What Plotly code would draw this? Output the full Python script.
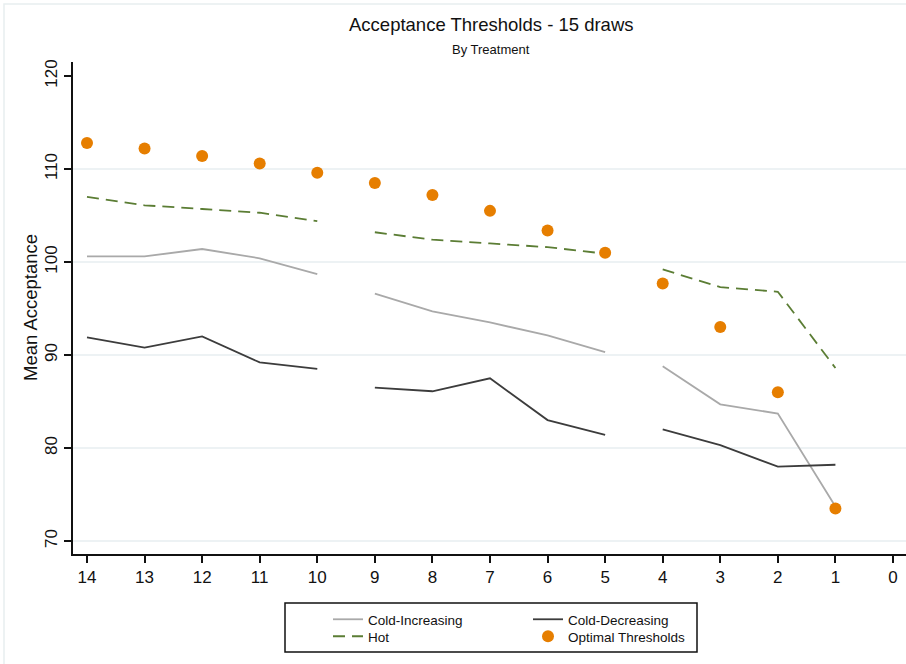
import plotly.graph_objects as go

# Draws remaining (x axis), 14 down to 1
draws = [14, 13, 12, 11, 10, 9, 8, 7, 6, 5, 4, 3, 2, 1]
# Line segments are broken after these draws
breaks_after = [10, 5]

cold_increasing = [100.6, 100.6, 101.4, 100.4, 98.7, 96.6, 94.7, 93.5, 92.1, 90.3, 88.8, 84.7, 83.7, 73.7]
cold_decreasing = [91.9, 90.8, 92.0, 89.2, 88.5, 86.5, 86.1, 87.5, 83.0, 81.4, 82.0, 80.3, 78.0, 78.2]
hot = [107.0, 106.1, 105.7, 105.3, 104.4, 103.2, 102.4, 102.0, 101.6, 100.9, 99.2, 97.3, 96.8, 88.6]
optimal = [112.8, 112.2, 111.4, 110.6, 109.6, 108.5, 107.2, 105.5, 103.4, 101.0, 97.7, 93.0, 86.0, 73.5]

x_ticks = list(range(14, -1, -1))
y_ticks = [70, 80, 90, 100, 110, 120]


def with_breaks(xs, ys):
    ox, oy = [], []
    for x, y in zip(xs, ys):
        ox.append(x)
        oy.append(y)
        if x in breaks_after:
            ox.append(None)
            oy.append(None)
    return ox, oy


FONT = "Liberation Sans, Arial, sans-serif"
fig = go.Figure()

x1, y1 = with_breaks(draws, cold_increasing)
fig.add_trace(go.Scatter(x=x1, y=y1, mode="lines", name="Cold-Increasing", legend="legend",
                         line=dict(color="#a9a9a9", width=1.8), connectgaps=False))
x2, y2 = with_breaks(draws, cold_decreasing)
fig.add_trace(go.Scatter(x=x2, y=y2, mode="lines", name="Cold-Decreasing", legend="legend2",
                         line=dict(color="#3c3c3c", width=1.8), connectgaps=False))
x3, y3 = with_breaks(draws, hot)
fig.add_trace(go.Scatter(x=x3, y=y3, mode="lines", name="Hot", legend="legend3",
                         line=dict(color="#5b7d34", width=1.8, dash="12px,7px"), connectgaps=False))
fig.add_trace(go.Scatter(x=draws, y=optimal, mode="markers", name="Optimal Thresholds", legend="legend4",
                         marker=dict(color="#e67e00", size=12, line=dict(width=0))))

# light horizontal gridlines (not at the top tick)
for yv in y_ticks[:-1]:
    fig.add_shape(type="line", xref="paper", x0=0, x1=1, yref="y", y0=yv, y1=yv,
                  line=dict(color="#e7eef1", width=1.5), layer="below")

W, H = 906, 664
ML, MR, MT, MB = 73, 0, 62, 110
pw = W - ML - MR
ph = H - MT - MB

def px_x(p):
    return (p - ML) / pw

def px_y(p):
    return 1 - (p - MT) / ph

# faint outer frame
fig.add_shape(type="rect", xref="paper", yref="paper",
              x0=px_x(4), x1=px_x(W + 10), y0=px_y(H + 10), y1=px_y(4),
              line=dict(color="#e8eef0", width=1.5), layer="below")
# legend frame
fig.add_shape(type="rect", xref="paper", yref="paper",
              x0=px_x(285), x1=px_x(697), y0=px_y(652), y1=px_y(603),
              line=dict(color="#111111", width=1.5), fillcolor="white", layer="below")

fig.add_annotation(text="Acceptance Thresholds - 15 draws", xref="paper", yref="paper",
                   x=px_x(491), y=px_y(24), showarrow=False,
                   font=dict(family=FONT, size=18.5, color="#111111"), yanchor="middle")
fig.add_annotation(text="By Treatment", xref="paper", yref="paper",
                   x=px_x(491), y=px_y(50), showarrow=False,
                   font=dict(family=FONT, size=13, color="#111111"), yanchor="middle")
fig.add_annotation(text="Mean Acceptance", xref="paper", yref="paper",
                   x=px_x(30), y=px_y(308), showarrow=False, textangle=-90,
                   font=dict(family=FONT, size=18.5, color="#111111"),
                   xanchor="center", yanchor="middle")


def leg(xp, yp):
    return dict(orientation="v", xanchor="left", yanchor="top",
                x=px_x(xp), y=px_y(yp), borderwidth=0, bgcolor="rgba(0,0,0,0)",
                font=dict(family=FONT, size=13.5, color="#111111"),
                tracegroupgap=0, itemwidth=30)


fig.update_layout(
    width=W, height=H,
    margin=dict(l=ML, r=MR, t=MT, b=MB),
    paper_bgcolor="white", plot_bgcolor="white",
    font=dict(family=FONT, color="#111111"),
    showlegend=True,
    legend=leg(328, 604),
    legend2=leg(528, 604),
    legend3=leg(328, 621),
    legend4=leg(528, 621),
    xaxis=dict(range=[14.243, -0.226], tickmode="array", tickvals=x_ticks,
               ticktext=[str(v) for v in x_ticks], showgrid=False, zeroline=False,
               showline=True, linecolor="#111111", linewidth=1.5,
               ticks="outside", ticklen=7, tickwidth=1.5, tickcolor="#111111",
               tickfont=dict(family=FONT, size=17, color="#111111")),
    yaxis=dict(range=[68.60, 121.51], tickmode="array", tickvals=y_ticks,
               ticktext=[str(v) for v in y_ticks], showgrid=False, zeroline=False,
               showline=True, linecolor="#111111", linewidth=1.5,
               ticks="outside", ticklen=7, tickwidth=1.5, tickcolor="#111111",
               tickangle=-90,
               tickfont=dict(family=FONT, size=17, color="#111111")),
)

fig.write_html("out.html")
